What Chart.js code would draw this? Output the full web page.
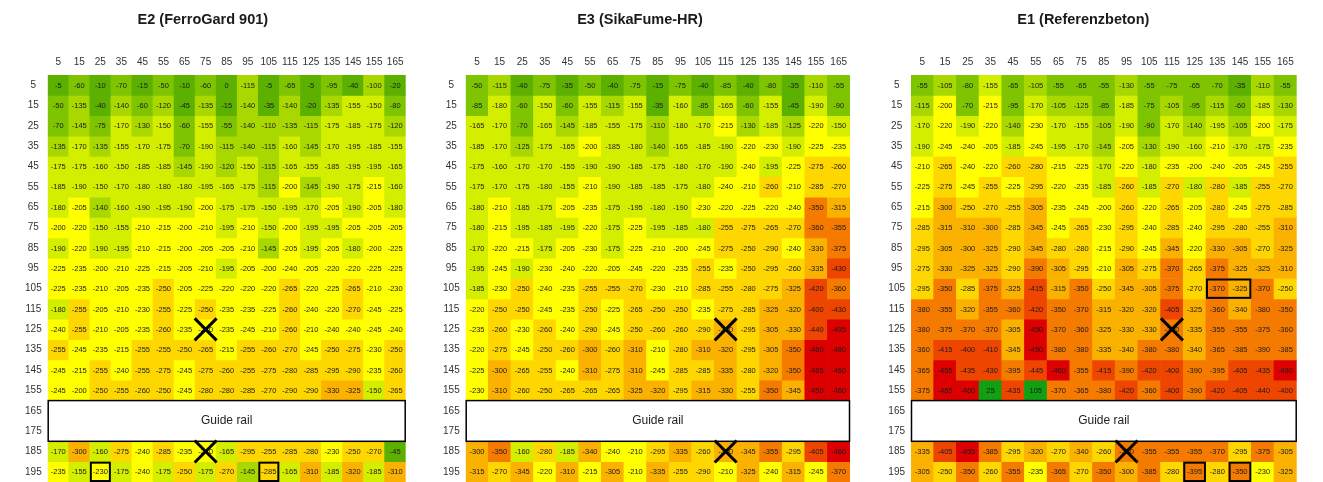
<!DOCTYPE html>
<html>
<head>
<meta charset="utf-8">
<script src="https://cdn.jsdelivr.net/npm/chart.js@4.4.1/dist/chart.umd.min.js"></script>
<style>
  body { margin: 0; background: #fff; width: 1323px; height: 482px; overflow: hidden; position: relative; }
  canvas { position: absolute; top: 0; }
</style>
</head>
<body>
<canvas id="e2" width="420" height="482" style="left:0px;width:420px;height:482px"></canvas>
<canvas id="e3" width="430" height="482" style="left:430px;width:430px;height:482px"></canvas>
<canvas id="e1" width="453" height="482" style="left:870px;width:453px;height:482px"></canvas>
<script>
const columns = [5, 15, 25, 35, 45, 55, 65, 75, 85, 95, 105, 115, 125, 135, 145, 155, 165]
const rowTicks = [5, 15, 25, 35, 45, 55, 65, 75, 85, 95, 105, 115, 125, 135, 145, 155, 165, 175, 185, 195]
const dataRows = [5, 15, 25, 35, 45, 55, 65, 75, 85, 95, 105, 115, 125, 135, 145, 155, 185, 195]
const railRange = [160, 180]

// E2 (FerroGard 901), one line per row of dataRows
const e2Values = [
  [-5, -60, -10, -70, -15, -50, -10, -60, 0, -115, -5, -65, -5, -95, -40, -100, -20],
  [-50, -135, -40, -140, -60, -120, -45, -135, -15, -140, -35, -140, -20, -135, -155, -150, -80],
  [-70, -145, -75, -170, -130, -150, -60, -155, -55, -140, -110, -135, -115, -175, -185, -175, -120],
  [-135, -170, -135, -155, -170, -175, -70, -190, -115, -140, -115, -160, -145, -170, -195, -185, -155],
  [-175, -175, -160, -150, -185, -185, -145, -190, -120, -150, -115, -165, -155, -185, -195, -195, -165],
  [-185, -190, -150, -170, -180, -180, -180, -195, -165, -175, -115, -200, -145, -190, -175, -215, -160],
  [-180, -205, -140, -160, -190, -195, -190, -200, -175, -175, -150, -195, -170, -205, -190, -205, -180],
  [-200, -220, -150, -155, -210, -215, -200, -210, -195, -210, -150, -200, -195, -195, -205, -205, -205],
  [-190, -220, -190, -195, -210, -215, -200, -205, -205, -210, -145, -205, -195, -205, -180, -200, -225],
  [-225, -235, -200, -210, -225, -215, -205, -210, -195, -205, -200, -240, -205, -220, -220, -225, -225],
  [-225, -235, -210, -205, -235, -250, -205, -225, -220, -220, -220, -265, -220, -225, -265, -210, -230],
  [-180, -255, -205, -210, -230, -255, -225, -250, -235, -235, -225, -260, -240, -220, -270, -245, -225],
  [-240, -255, -210, -205, -235, -260, -235, -240, -235, -245, -210, -260, -210, -240, -240, -245, -240],
  [-255, -245, -235, -215, -255, -255, -250, -265, -215, -255, -260, -270, -245, -250, -275, -230, -250],
  [-245, -215, -255, -240, -255, -275, -245, -275, -260, -255, -275, -280, -285, -295, -290, -235, -260],
  [-245, -200, -250, -255, -260, -250, -245, -280, -280, -285, -270, -290, -290, -330, -325, -150, -265],
  [-170, -300, -160, -275, -240, -285, -235, -240, -165, -295, -255, -285, -280, -230, -250, -270, -45],
  [-235, -155, -230, -175, -240, -175, -250, -175, -270, -145, -285, -165, -310, -185, -320, -185, -310]
]

// E3 (SikaFume-HR)
const e3Values = [
  [-50, -115, -40, -75, -35, -50, -40, -75, -15, -75, -40, -85, -40, -80, -35, -110, -55],
  [-85, -180, -60, -150, -60, -155, -115, -155, -35, -160, -85, -165, -60, -155, -45, -190, -90],
  [-165, -170, -70, -165, -145, -185, -155, -175, -110, -180, -170, -215, -130, -185, -125, -220, -150],
  [-185, -170, -125, -175, -165, -200, -185, -180, -140, -165, -185, -190, -220, -230, -190, -225, -235],
  [-175, -160, -170, -170, -155, -190, -190, -185, -175, -180, -170, -190, -240, -195, -225, -275, -260],
  [-175, -170, -175, -180, -155, -210, -190, -185, -185, -175, -180, -240, -210, -260, -210, -285, -270],
  [-180, -210, -185, -175, -205, -235, -175, -195, -180, -190, -230, -220, -225, -220, -240, -350, -315],
  [-180, -215, -195, -185, -195, -220, -175, -225, -195, -185, -180, -255, -275, -265, -270, -360, -355],
  [-170, -220, -215, -175, -205, -230, -175, -225, -210, -200, -245, -275, -250, -290, -240, -330, -375],
  [-195, -245, -190, -230, -240, -220, -205, -245, -220, -235, -255, -235, -250, -295, -260, -335, -430],
  [-185, -230, -250, -240, -235, -255, -255, -270, -230, -210, -285, -255, -280, -275, -325, -420, -360],
  [-220, -250, -250, -245, -235, -250, -225, -265, -250, -250, -235, -275, -285, -325, -320, -400, -430],
  [-235, -260, -230, -260, -240, -290, -245, -250, -260, -260, -290, -300, -295, -305, -330, -440, -495],
  [-220, -275, -245, -250, -260, -300, -260, -310, -210, -280, -310, -320, -295, -305, -350, -460, -480],
  [-225, -300, -265, -255, -240, -310, -275, -310, -245, -285, -285, -335, -280, -320, -350, -465, -460],
  [-230, -310, -260, -250, -265, -265, -265, -325, -320, -295, -315, -330, -255, -350, -345, -450, -460],
  [-300, -350, -160, -280, -185, -340, -240, -210, -295, -335, -260, -300, -345, -355, -295, -405, -460],
  [-315, -270, -345, -220, -310, -215, -305, -210, -335, -255, -290, -210, -325, -240, -315, -245, -370]
]

// E1 (Referenzbeton)
const e1Values = [
  [-55, -105, -80, -155, -65, -105, -55, -65, -55, -130, -55, -75, -65, -70, -35, -110, -55],
  [-115, -200, -70, -215, -95, -170, -105, -125, -85, -185, -75, -105, -95, -115, -60, -185, -130],
  [-170, -220, -190, -220, -140, -230, -170, -155, -105, -190, -90, -170, -140, -195, -105, -200, -175],
  [-190, -245, -240, -205, -185, -245, -195, -170, -145, -205, -130, -190, -160, -210, -170, -175, -235],
  [-210, -265, -240, -220, -260, -280, -215, -225, -170, -220, -180, -235, -200, -240, -205, -245, -255],
  [-225, -275, -245, -255, -225, -295, -220, -235, -185, -260, -185, -270, -180, -280, -185, -255, -270],
  [-215, -300, -250, -270, -255, -305, -235, -245, -200, -260, -220, -265, -205, -280, -245, -275, -285],
  [-285, -315, -310, -300, -285, -345, -245, -265, -230, -295, -240, -285, -240, -295, -280, -255, -310],
  [-295, -305, -300, -325, -290, -345, -280, -280, -215, -290, -245, -345, -220, -330, -305, -270, -325],
  [-275, -330, -325, -325, -290, -390, -305, -295, -210, -305, -275, -370, -265, -375, -325, -325, -310],
  [-295, -350, -285, -375, -325, -415, -315, -350, -250, -345, -305, -375, -270, -370, -325, -370, -250],
  [-380, -355, -320, -355, -360, -420, -350, -370, -315, -320, -320, -405, -325, -360, -340, -380, -350],
  [-380, -375, -370, -370, -305, -450, -370, -360, -325, -330, -330, -360, -335, -355, -355, -375, -360],
  [-360, -415, -400, -410, -345, -450, -380, -380, -335, -340, -380, -380, -340, -365, -385, -390, -385],
  [-365, -455, -435, -430, -395, -445, -460, -355, -415, -390, -420, -400, -390, -395, -405, -435, -490],
  [-375, -465, -460, 25, -435, 105, -370, -365, -380, -420, -360, -400, -390, -420, -405, -440, -400],
  [-335, -405, -455, -385, -295, -320, -270, -340, -260, -350, -355, -355, -355, -370, -295, -375, -305],
  [-305, -250, -350, -260, -355, -235, -365, -270, -350, -300, -385, -280, -395, -280, -350, -230, -325]
]

// crossed-out cells [column, row] and framed cells [fromColumn, toColumn, row]
const e2Crosses = [[75, 125], [75, 185]]
const e3Crosses = [[115, 125], [115, 185]]
const e1Crosses = [[115, 125], [95, 185]]
const e2Frames = [[25, 25, 195], [105, 105, 195]]
const e3Frames = []
const e1Frames = [[135, 145, 105], [125, 125, 195], [145, 145, 195]]

const fontFamily = "'Liberation Sans', Arial, sans-serif"

function colorFor(v) {
  if (v > 0) return '#11a011'
  if (v > -50) return '#5cb000'
  if (v > -100) return '#7fc400'
  if (v > -150) return '#a8d800'
  if (v > -200) return '#d4ee00'
  if (v > -250) return '#ffff00'
  if (v > -300) return '#ffd700'
  if (v > -350) return '#fbb100'
  if (v > -400) return '#f47b00'
  if (v > -450) return '#ee4600'
  return '#dc0000'
}

const overlayPlugin = {
  id: 'overlay',
  afterDatasetsDraw(chart, args, opts) {
    const ctx = chart.ctx
    const x = chart.scales.x
    const y = chart.scales.y
    const area = chart.chartArea

    // cell values
    ctx.save()
    ctx.font = `7.5px ${fontFamily}`
    ctx.fillStyle = '#1a1a1a'
    ctx.textAlign = 'center'
    ctx.textBaseline = 'middle'
    chart.data.datasets.forEach((ds, di) => {
      chart.getDatasetMeta(di).data.forEach((bar, i) => {
        ctx.fillText(String(ds.values[i]), bar.x, (bar.y + bar.base) / 2 + 0.5)
      })
    })
    ctx.restore()

    // guide rail
    const top = y.getPixelForValue(railRange[0])
    const bottom = y.getPixelForValue(railRange[1])
    ctx.save()
    ctx.fillStyle = '#fff'
    ctx.fillRect(area.left, top, area.right - area.left, bottom - top)
    ctx.strokeStyle = '#000'
    ctx.lineWidth = 1.5
    ctx.strokeRect(area.left + 0.5, top, area.right - area.left - 1, bottom - top)
    ctx.fillStyle = '#222'
    ctx.font = `12px ${fontFamily}`
    ctx.textAlign = 'center'
    ctx.textBaseline = 'middle'
    ctx.fillText('Guide rail', (area.left + area.right) / 2, (top + bottom) / 2)
    ctx.restore()

    const cellW = x.getPixelForValue(1) - x.getPixelForValue(0)
    const cellH = Math.abs(y.getPixelForValue(10) - y.getPixelForValue(0))

    // framed cells
    ctx.save()
    ctx.strokeStyle = '#000'
    ctx.lineWidth = 2
    opts.frames.forEach(([c0, c1, row]) => {
      const left = x.getPixelForValue(columns.indexOf(c0)) - cellW / 2
      const right = x.getPixelForValue(columns.indexOf(c1)) + cellW / 2
      const t = y.getPixelForValue(row - 5)
      ctx.strokeRect(left + 1, t + 1, right - left - 2, cellH - 2)
    })
    ctx.restore()

    // crossed cells
    ctx.save()
    ctx.strokeStyle = '#000'
    ctx.lineWidth = 3
    opts.crosses.forEach(([col, row]) => {
      const cx = x.getPixelForValue(columns.indexOf(col))
      const cy = y.getPixelForValue(row)
      const h = 11
      ctx.beginPath()
      ctx.moveTo(cx - h, cy - h)
      ctx.lineTo(cx + h, cy + h)
      ctx.moveTo(cx + h, cy - h)
      ctx.lineTo(cx - h, cy + h)
      ctx.stroke()
    })
    ctx.restore()
  }
}

function makePanel(id, title, values, crosses, frames, axisWidth, rightPad) {
  const datasets = dataRows.map((row, r) => ({
    data: columns.map(() => [row - 5, row + 5]),
    values: values[r],
    backgroundColor: values[r].map(colorFor),
    borderWidth: 0,
    grouped: false,
    barPercentage: 1,
    categoryPercentage: 1
  }))

  return new Chart(document.getElementById(id), {
    type: 'bar',
    data: { labels: columns.map(String), datasets: datasets },
    plugins: [overlayPlugin],
    options: {
      responsive: false,
      animation: false,
      devicePixelRatio: 1,
      layout: { padding: { left: 0, right: rightPad, top: 0, bottom: 0 } },
      plugins: {
        legend: { display: false },
        tooltip: { enabled: false },
        title: {
          display: true,
          text: title,
          color: '#1a1a1a',
          font: { family: fontFamily, size: 14.5, weight: 'bold' },
          padding: { top: 11, bottom: 0 }
        },
        overlay: { crosses: crosses, frames: frames }
      },
      scales: {
        x: {
          position: 'top',
          grid: { display: false, drawTicks: false },
          border: { display: false },
          ticks: { color: '#333', font: { family: fontFamily, size: 10 }, padding: 7, maxRotation: 0, autoSkip: false },
          afterFit: scale => {
            scale.height = 46.6
            scale.paddingLeft = 0
            scale.paddingRight = 0
          }
        },
        y: {
          type: 'linear',
          min: 0,
          max: 200,
          reverse: true,
          grid: { display: false, drawTicks: false },
          border: { display: false },
          ticks: { color: '#333', font: { family: fontFamily, size: 10 }, padding: 6, crossAlign: 'center' },
          afterBuildTicks: scale => { scale.ticks = rowTicks.map(v => ({ value: v })) },
          afterFit: scale => {
            scale.width = axisWidth
            scale.paddingTop = 0
            scale.paddingBottom = 0
          }
        }
      }
    }
  })
}

makePanel('e2', 'E2 (FerroGard 901)', e2Values, e2Crosses, e2Frames, 47.7, 14.3)
makePanel('e3', 'E3 (SikaFume-HR)', e3Values, e3Crosses, e3Frames, 35.7, 10)
makePanel('e1', 'E1 (Referenzbeton)', e1Values, e1Crosses, e1Frames, 41, 26.3)
</script>
</body>
</html>
